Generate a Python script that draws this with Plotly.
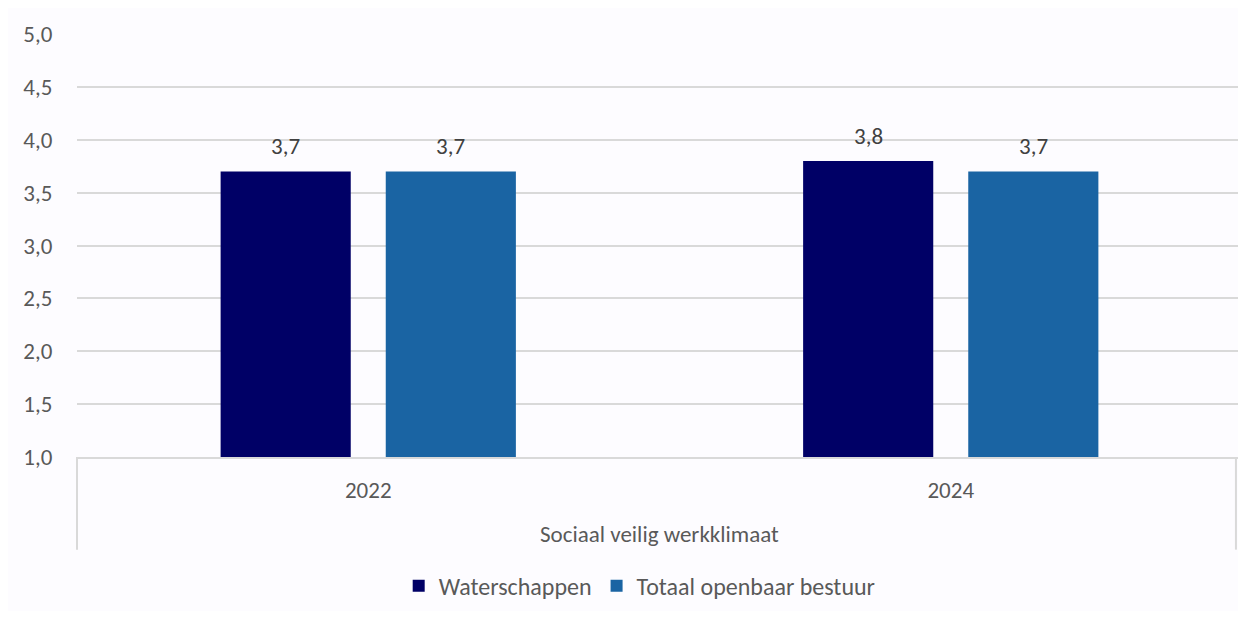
import plotly.graph_objects as go

group_label = "Sociaal veilig werkklimaat"
years = ["2022", "2024"]
series_names = ["Waterschappen", "Totaal openbaar bestuur"]
waterschappen = [3.7, 3.8]
totaal = [3.7, 3.7]
y_ticks = [1.0, 1.5, 2.0, 2.5, 3.0, 3.5, 4.0, 4.5, 5.0]

colors = ["#000066", "#1a64a3"]
FONT = "Carlito, Calibri, Lato, sans-serif"
TXT = "#595959"
LBL = "#404040"
GRID = "#d9d9d9"
FS = 23
BARGAP = 0.433
BARGROUPGAP = 0.212

fig = go.Figure()
series = [waterschappen, totaal]
for name, vals, col in zip(series_names, series, colors):
    fig.add_trace(go.Bar(
        x=years, y=vals, name=name,
        marker=dict(color=col, line=dict(width=0)),
    ))

# data labels placed at each bar's category slot (derived from bargap)
n = len(series)
slot = (1 - BARGAP) / n
for j, vals in enumerate(series):
    for i, v in enumerate(vals):
        fig.add_annotation(
            x=i - (1 - BARGAP) / 2 + slot * (j + 0.5), y=v, xref="x", yref="y",
            text=f"{v:.1f}".replace(".", ","), showarrow=False,
            yanchor="middle", yshift=25,
            font=dict(family=FONT, size=FS, color=LBL),
        )

# group label under the year labels
fig.add_annotation(
    x=0.5, y=-0.1816, xref="paper", yref="paper", text=group_label,
    showarrow=False, yanchor="middle",
    font=dict(family=FONT, size=FS, color=TXT),
)

# category-axis dividers
for xp in (0, 0.9948):
    fig.add_shape(type="line", xref="paper", yref="paper",
                  x0=xp, x1=xp, y0=0, y1=-0.219,
                  line=dict(color=GRID, width=2))

fig.update_layout(
    width=1238, height=603,
    margin=dict(l=69, r=4, t=26, b=153),
    paper_bgcolor="#fdfcff", plot_bgcolor="#fdfcff",
    separators=",.",
    barmode="group", bargap=BARGAP, bargroupgap=BARGROUPGAP,
    font=dict(family=FONT, size=FS, color=TXT),
    showlegend=True,
    legend=dict(orientation="h", x=0.483, xanchor="center", y=-0.302, yanchor="middle",
                font=dict(family=FONT, size=24, color=TXT), itemclick=False),
    yaxis=dict(range=[1, 5], tickvals=y_ticks, tickformat=".1f",
               showgrid=True, gridcolor=GRID, gridwidth=2, zeroline=False,
               showline=False, ticks="outside", ticklen=19, tickcolor="rgba(0,0,0,0)",
               tickfont=dict(size=FS, color=TXT)),
    xaxis=dict(type="category", range=[-0.5, 1.5], showline=True, linecolor=GRID, linewidth=2,
               ticks="outside", ticklen=11, tickcolor="rgba(0,0,0,0)",
               tickfont=dict(size=FS, color=TXT), showgrid=False),
)

fig.write_html("out.html")
